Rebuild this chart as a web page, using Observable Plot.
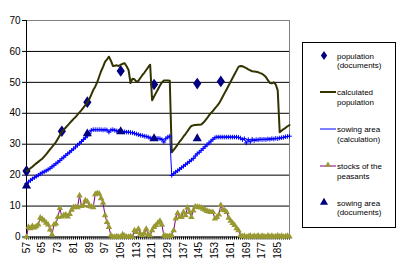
<!DOCTYPE html>
<html>
<head>
<meta charset="utf-8">
<script src="https://cdn.jsdelivr.net/npm/d3@7"></script>
<script src="https://cdn.jsdelivr.net/npm/@observablehq/plot@0.6"></script>
<style>
  body { margin: 0; background: #fff; }
  #wrap { position: relative; width: 403px; height: 270px; font-family: Arial, "Liberation Sans", sans-serif; }
  #legend { position: absolute; left: 0; top: 0; }
</style>
</head>
<body>
<div id="wrap"></div>
<script>
// ---- data ----
const years = d3.range(57, 192); // category axis 57 … 191
const labelYears = [57, 65, 73, 81, 89, 97, 105, 113, 121, 129, 137, 145, 153, 161, 169, 177, 185];
const yTicks = [0, 10, 20, 30, 40, 50, 60, 70];

const calcPopulation = [
  21.3, 21.7, 22.2, 22.7, 23.3, 23.8, 24.3, 24.8, 25.3, 26.0,
  26.7, 27.5, 28.3, 29.1, 29.9, 30.7, 31.8, 32.9, 34.0, 34.7,
  35.4, 36.1, 36.8, 37.5, 38.2, 38.8, 39.6, 40.3, 41.0, 41.8,
  42.6, 43.5, 44.6, 46.0, 47.5, 48.6, 50.0, 51.8, 53.6, 55.0,
  56.6, 57.4, 58.3, 57.0, 55.3, 55.4, 55.5, 55.3, 55.7, 56.0,
  56.2, 55.2, 54.0, 49.8, 51.2, 51.0, 50.2, 50.5, 51.4, 52.3,
  53.1, 54.0, 54.9, 55.7, 44.2, 45.4, 46.6, 47.8, 49.0, 50.0,
  50.6, 50.6, 50.6, 50.5, 27.4, 28.2, 29.0, 29.9, 30.8, 31.6,
  32.5, 33.3, 34.2, 35.1, 35.9, 36.1, 36.2, 36.3, 36.3, 36.4,
  36.9, 37.6, 38.4, 39.3, 40.1, 40.8, 41.6, 42.3, 43.1, 44.2,
  45.4, 46.6, 47.8, 49.0, 50.2, 51.4, 52.6, 53.8, 55.0, 55.3,
  55.2, 54.9, 54.6, 54.2, 53.9, 53.6, 53.5, 53.4, 53.3, 53.0,
  52.8, 52.3, 51.7, 50.7, 49.8, 49.7, 50.0, 49.3, 47.4, 33.9,
  34.4, 34.9, 35.3, 35.8, 36.2
];

const sowingCalc = [
  17.2, 17.8, 18.3, 18.8, 19.2, 19.6, 20.0, 20.4, 20.8, 21.1,
  21.4, 21.8, 22.2, 22.7, 23.2, 23.7, 24.2, 24.7, 25.3, 25.8,
  26.4, 26.9, 27.4, 28.0, 28.5, 29.1, 29.7, 30.3, 30.9, 31.5,
  32.1, 32.7, 33.4, 34.5, 34.7, 34.7, 34.7, 34.7, 34.7, 34.6,
  34.7, 34.6, 33.9, 34.6, 34.7, 34.5, 34.3, 34.2, 34.4, 34.0,
  34.0, 33.9, 33.9, 33.8, 33.7, 33.5, 33.3, 33.1, 32.9, 32.8,
  32.6, 32.5, 32.3, 32.0, 31.8, 31.8, 31.8, 31.9, 31.8, 31.5,
  30.7, 31.8, 32.3, 32.6, 19.9, 20.5, 21.0, 21.4, 21.9, 22.4,
  22.9, 23.4, 23.9, 24.4, 24.9, 25.4, 26.2, 26.9, 27.4, 28.0,
  28.6, 29.2, 29.8, 30.4, 31.0, 31.6, 32.1, 32.3, 32.3, 32.3,
  32.3, 32.3, 32.3, 32.3, 32.3, 32.3, 32.3, 32.3, 32.2, 32.0,
  31.5, 31.8, 30.4, 31.5, 30.8, 31.6, 31.2, 31.5, 31.4, 31.6,
  31.5, 31.6, 31.5, 31.7, 31.6, 31.8, 31.7, 31.9, 31.8, 32.0,
  32.1, 32.2, 32.4, 32.5, 32.6
];

const stocks = [
  0, 3.2, 2.8, 3.5, 3.0, 3.4, 4.0, 6.2, 5.8, 5.3,
  4.6, 4.0, 2.4, 0.8, 4.0, 4.3, 6.4, 9.3, 6.6, 7.0,
  7.2, 6.6, 7.4, 8.8, 9.6, 9.7, 9.6, 13.4, 10.0, 10.2,
  11.8, 11.4, 10.0, 9.8, 9.6, 13.8, 14.1, 14.0, 12.5, 11.0,
  7.0, 4.8, 3.2, 0.5, 0, 0, 0.2, 0, 0, 0.8,
  0.3, 0, 0, 0.2, 0, 2.1, 1.6, 2.6, 1.0, 0.5,
  1.2, 2.6, 0.8, 0.5, 2.1, 3.2, 3.8, 4.6, 5.2, 3.9,
  0.5, 0.3, 0.2, 0.3, 0.5, 2.1, 5.9, 7.7, 6.4, 6.4,
  8.0, 7.0, 9.5, 8.0, 6.4, 8.5, 9.8, 9.7, 9.6, 9.5,
  9.1, 8.8, 8.4, 8.2, 8.0, 8.0, 5.9, 6.4, 7.2, 10.3,
  8.8, 8.6, 8.0, 6.2, 5.2, 4.5, 3.8, 2.8, 2.1, 0.5,
  0.2, 0.3, 0, 0.2, 0.4, 0, 0.3, 0.1, 0.4, 0,
  0.3, 0.2, 0, 0.4, 0.1, 0.3, 0, 0.2, 0.4, 0.1,
  0.3, 0, 0.2, 0.3, 0.1
];

const popDocYears = [57, 75, 88, 105, 122, 144, 156];
const popDocValues = [21.3, 34.2, 43.6, 53.7, 49.3, 49.6, 50.3];
const sowDocYears = [57, 88, 105, 122, 144];
const sowDocValues = [16.5, 33.4, 34.1, 31.8, 31.8];

const seriesNames = [
  ["population", "(documents)"],
  ["calculated", "population"],
  ["sowing area", "(calculation)"],
  ["stocks of the", "peasants"],
  ["sowing area", "(documents)"]
];

// ---- tables ----
const lineTable = years.map((yr, i) => ({yr, pop: calcPopulation[i], sow: sowingCalc[i], stk: stocks[i]}));
const popDocs = popDocYears.map((yr, i) => ({yr, v: popDocValues[i]}));
const sowDocs = sowDocYears.map((yr, i) => ({yr, v: sowDocValues[i]}));

// rhombus a bit taller than wide (like the spreadsheet diamond)
const rhombus = {
  draw(ctx, size) {
    const h = Math.sqrt(size / 0.35), w = 0.7 * h;
    ctx.moveTo(0, -h / 2); ctx.lineTo(w / 2, 0); ctx.lineTo(0, h / 2); ctx.lineTo(-w / 2, 0); ctx.closePath();
  }
};

const navy = "#000080", olive = "#333300", blue = "#0000ff", purple = "#800080", khaki = "#999933";

const chart = Plot.plot({
  width: 403,
  height: 270,
  marginLeft: 26,
  marginRight: 114,
  marginTop: 20,
  marginBottom: 33.5,
  style: {fontFamily: "Arial, 'Liberation Sans', sans-serif", fontSize: "10px", color: "#000", background: "#fff"},
  x: {domain: [57, 191]},
  y: {domain: [0, 70]},
  marks: [
    Plot.ruleY([10, 20, 30, 40, 50, 60], {stroke: "#000", strokeWidth: 1}),
    Plot.ruleY([70], {stroke: "#808080", strokeWidth: 1}),
    Plot.ruleX([191], {stroke: "#808080", strokeWidth: 1}),
    Plot.axisY({ticks: yTicks, tickSize: 4, tickPadding: 2, label: null, fontSize: 10}),
    Plot.axisX({ticks: years, tickSize: 3, tickFormat: () => "", label: null}),
    Plot.axisX({ticks: labelYears, tickSize: 0, tickPadding: 5, tickRotate: -90, tickFormat: d => String(d), label: null, fontSize: 10}),
    Plot.ruleY([0], {stroke: "#000"}),
    Plot.ruleX([57], {stroke: "#000"}),
    // series in spreadsheet order
    Plot.dot(popDocs, {x: "yr", y: "v", symbol: rhombus, r: 3.9, fill: navy, stroke: "none"}),
    Plot.line(lineTable, {x: "yr", y: "pop", stroke: olive, strokeWidth: 2, curve: "linear"}),
    Plot.line(lineTable, {x: "yr", y: "sow", stroke: blue, strokeWidth: 1}),
    Plot.dot(lineTable, {x: "yr", y: "sow", symbol: "plus", r: 1.6, stroke: blue, strokeWidth: 1}),
    Plot.line(lineTable, {x: "yr", y: "stk", stroke: purple, strokeWidth: 1}),
    Plot.dot(lineTable, {x: "yr", y: "stk", symbol: "triangle", r: 2.4, fill: khaki, stroke: "none"}),
    Plot.dot(sowDocs, {x: "yr", y: "v", symbol: "triangle", r: 3.4, fill: navy, stroke: "none"})
  ]
});

const wrap = document.getElementById("wrap");
wrap.appendChild(chart);

// ---- legend ----
const lg = d3.select(wrap).append("svg").attr("id", "legend").attr("width", 403).attr("height", 270);
lg.append("rect").attr("x", 302.5).attr("y", 42.5).attr("width", 93).attr("height", 185)
  .attr("fill", "#fff").attr("stroke", "#000");
const rowY = [55.5, 92, 129, 166, 202.5];
const textX = 337;
seriesNames.forEach((lines, i) => {
  const g = lg.append("g");
  lines.forEach((t, j) => {
    g.append("text").attr("x", textX).attr("y", rowY[i] + j * 9.5 + 3)
      .attr("font-size", 8).attr("font-family", "Arial, 'Liberation Sans', sans-serif").text(t);
  });
});
// symbols
lg.append("path").attr("transform", `translate(324,${rowY[0]})`).attr("d", d3.symbol(rhombus, Math.PI * 3 * 3)()).attr("fill", navy);
lg.append("line").attr("x1", 320).attr("x2", 336).attr("y1", rowY[1]).attr("y2", rowY[1]).attr("stroke", olive).attr("stroke-width", 2);
lg.append("line").attr("x1", 320).attr("x2", 336).attr("y1", rowY[2]).attr("y2", rowY[2]).attr("stroke", blue);
lg.append("path").attr("transform", `translate(328,${rowY[2]})`).attr("d", d3.symbol(d3.symbolPlus, 8)()).attr("fill", blue);
lg.append("line").attr("x1", 320).attr("x2", 336).attr("y1", rowY[3]).attr("y2", rowY[3]).attr("stroke", purple);
lg.append("path").attr("transform", `translate(328,${rowY[3]-1})`).attr("d", d3.symbol(d3.symbolTriangle, Math.PI * 2.2 * 2.2)()).attr("fill", khaki);
lg.append("path").attr("transform", `translate(324,${rowY[4]})`).attr("d", d3.symbol(d3.symbolTriangle, Math.PI * 3 * 3)()).attr("fill", navy);
</script>
</body>
</html>
